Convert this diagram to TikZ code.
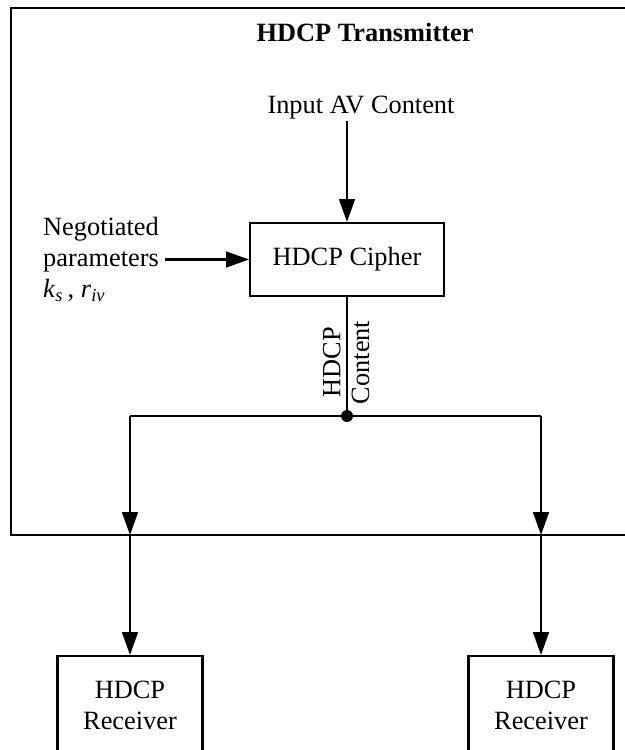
\documentclass[tikz,border=0pt]{standalone}
\usepackage{fontspec}
\setmainfont{Liberation Serif}
\usetikzlibrary{arrows.meta}

\begin{document}
\begin{tikzpicture}[
	every node/.style={font=\fontsize{15}{17.6}\selectfont},
	block/.style={draw,line width=1.2pt,minimum width=3.88cm,minimum height=1.46cm,align=center},
	rxblock/.style={draw,line width=1.2pt,minimum width=2.9cm,minimum height=1.96cm,align=center,anchor=north},
	flow/.style={line width=1.2pt,-{Triangle[length=13pt,width=9pt]}},
	wire/.style={line width=1.2pt}]
	\clip (0,0) rectangle (12.5,15);
	% transmitter frame
	\draw[wire] (0.22,14.84) rectangle (12.7,4.3);
	\node[font=\fontsize{15}{17.6}\selectfont\bfseries] (title) at (7.3,14.36) {HDCP Transmitter};
	\node[inner sep=1pt] (input) at (7.22,12.85) {Input AV Content};
	\node[block] (cipher) at (6.94,9.81) {HDCP Cipher};
	\node[anchor=west,align=left] (params) at (0.74,9.81)
		{Negotiated\\parameters\\\textit{k}\textsubscript{\textit{s}}\,, \textit{r}\textsubscript{\textit{iv}}};
	\coordinate (split) at (6.94,6.68);
	\coordinate (busl) at (2.6,6.68);
	\coordinate (busr) at (10.82,6.68);
	\coordinate (outl) at (2.6,4.3);
	\coordinate (outr) at (10.82,4.3);
	% receivers
	\node[rxblock] (rxl) at (2.6,1.9) {HDCP\\Receiver};
	\node[rxblock] (rxr) at (10.82,1.9) {HDCP\\Receiver};

	\draw[flow] (input.south -| cipher.north) -- (cipher.north);
	\draw[flow] (params.east) -- (cipher.west);
	\draw[wire] (cipher.south) --
		node[pos=0.55,rotate=90,anchor=south,inner sep=3pt] (lblhdcp) {HDCP}
		node[pos=0.55,rotate=90,anchor=north,inner sep=2pt] (lblcontent) {Content} (split);
	\fill (split) circle (0.12);
	\draw[wire] (busl) -- (busr);
	\draw[flow] (busl) -- (outl);
	\draw[flow] (busr) -- (outr);
	\draw[flow] (outl) -- (rxl.north);
	\draw[flow] (outr) -- (rxr.north);
\end{tikzpicture}
\end{document}
